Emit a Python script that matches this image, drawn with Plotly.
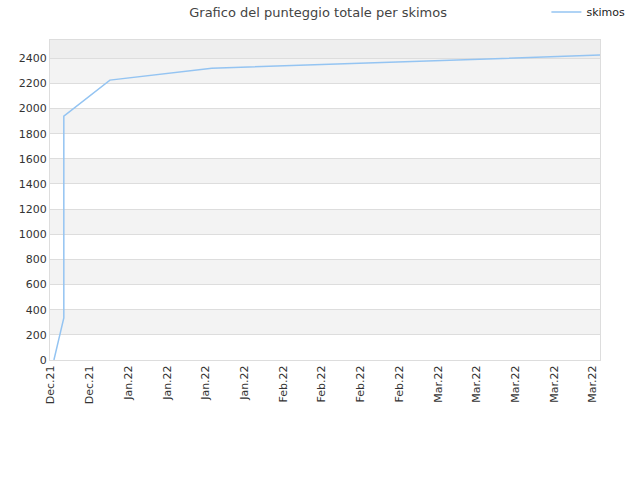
import plotly.graph_objects as go

# punteggio totale di skimos nel tempo
dates = ["2021-12-23 13:00", "2021-12-25 08:00", "2021-12-25 08:00",
         "2022-01-02 16:00", "2022-01-21 02:00", "2022-02-15 00:00",
         "2022-03-10 00:00", "2022-04-01 07:00"]
points = [0, 335, 1940, 2226, 2320, 2357, 2392, 2425]

tick_dates = ["2021-12-23", "2021-12-30", "2022-01-06", "2022-01-13", "2022-01-20",
              "2022-01-27", "2022-02-03", "2022-02-10", "2022-02-17", "2022-02-24",
              "2022-03-03", "2022-03-10", "2022-03-17", "2022-03-24", "2022-03-31"]
tick_labels = ["Dec.21", "Dec.21", "Jan.22", "Jan.22", "Jan.22", "Jan.22",
               "Feb.22", "Feb.22", "Feb.22", "Feb.22",
               "Mar.22", "Mar.22", "Mar.22", "Mar.22", "Mar.22"]

y_top = 2545

fig = go.Figure()
fig.add_trace(go.Scatter(x=dates, y=points, mode='lines', name='skimos',
                         line=dict(color='#94c4f2', width=1.5)))

# bande alternate di sfondo
shapes = []
for lo in range(200, 2400, 400):
    shapes.append(dict(type='rect', xref='paper', yref='y', x0=0, x1=1, y0=lo, y1=lo + 200,
                       fillcolor='#f3f3f3', line=dict(width=0), layer='below'))
shapes.append(dict(type='rect', xref='paper', yref='y', x0=0, x1=1, y0=2400, y1=y_top,
                   fillcolor='#eeeeee', line=dict(width=0), layer='below'))

fig.update_layout(
    width=640, height=480,
    margin=dict(l=50, r=40, t=40, b=120, autoexpand=False),
    paper_bgcolor='white', plot_bgcolor='white',
    font=dict(family='DejaVu Sans, sans-serif', size=11, color='#333333'),
    title=dict(text='Grafico del punteggio totale per skimos', x=0.497, xanchor='center',
               y=0.975, yanchor='middle', font=dict(size=13, color='#444444')),
    showlegend=True,
    legend=dict(xref='container', yref='container', x=0.985, y=0.975,
                xanchor='right', yanchor='middle', bgcolor='rgba(0,0,0,0)',
                font=dict(size=11, color='#222222')),
    shapes=shapes,
    xaxis=dict(type='date', range=["2021-12-22 20:00", "2022-04-01 07:00"],
               tickmode='array', tickvals=tick_dates, ticktext=tick_labels,
               tickangle=-90, showgrid=False, zeroline=False,
               showline=True, linecolor='#dddddd', mirror=True,
               ticks='', tickfont=dict(size=11, color='#333333')),
    yaxis=dict(range=[0, y_top], tickmode='linear', tick0=0, dtick=200,
               showgrid=True, gridcolor='#dddddd', zeroline=False,
               showline=True, linecolor='#dddddd', mirror=True,
               ticks='', tickfont=dict(size=11, color='#333333')),
)

fig.write_html("out.html", config={'displayModeBar': False},
               post_script="document.body.style.margin='0';")
